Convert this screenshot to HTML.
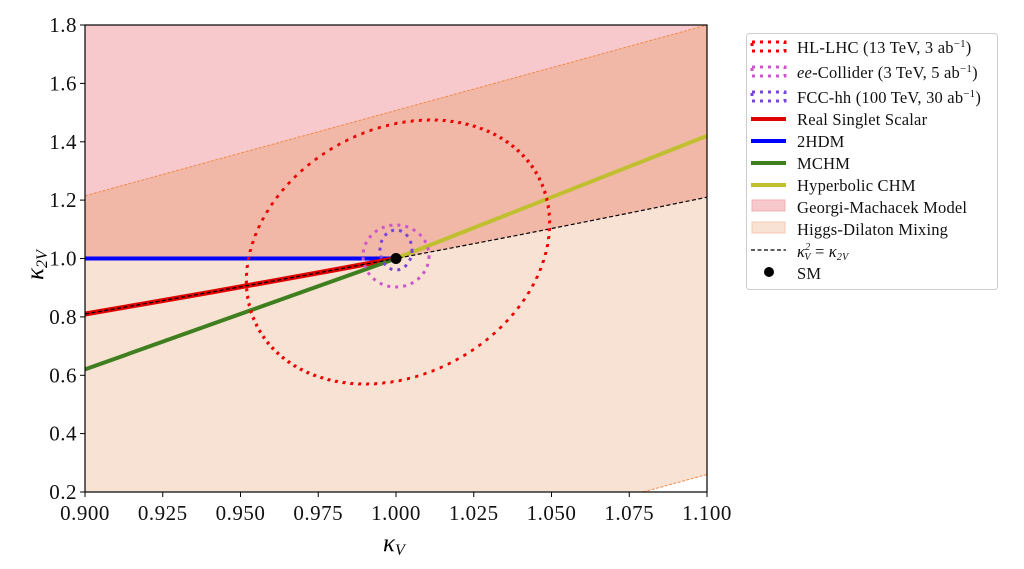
<!DOCTYPE html>
<html><head><meta charset="utf-8"><style>
html,body{margin:0;padding:0;background:#fff;}
svg{display:block;font-family:"Liberation Serif",serif;}
</style></head><body>
<svg width="1024" height="569" viewBox="0 0 1024 569" xmlns="http://www.w3.org/2000/svg">
<defs><clipPath id="c"><rect x="85" y="25" width="622" height="467"/></clipPath></defs>
<g clip-path="url(#c)">
<rect x="85" y="25" width="622" height="467" fill="#f7e2d3"/>
<polygon points="643,492 707,474.5 707,492" fill="#fff"/>
<polygon points="85,25 707,25 85,195.8" fill="#f7c9cc"/>
<polygon points="85,195.8 707,25 707,197.2 644.8,209.9 582.6,222.4 520.4,234.7 458.2,246.7 396,258.5 85,258.5" fill="#f1b8a7"/>
<line x1="85" y1="195.8" x2="707" y2="25" stroke="#f08a4b" stroke-width="1" stroke-dasharray="3 1.5"/>
<line x1="643" y1="492" x2="707" y2="474.5" stroke="#f08a4b" stroke-width="1" stroke-dasharray="3 1.5"/>
<line x1="85" y1="258.5" x2="396" y2="258.5" stroke="#0000ff" stroke-width="4"/>
<polyline points="85,314 147.2,303.3 209.4,292.4 271.6,281.3 333.8,270 396,258.5" fill="none" stroke="#e00000" stroke-width="5"/>
<line x1="85" y1="369.4" x2="396" y2="258.5" stroke="#3f7f1f" stroke-width="4"/>
<line x1="396" y1="258.5" x2="707" y2="135.9" stroke="#bfbf30" stroke-width="4"/>
<polyline points="85,314 147.2,303.3 209.4,292.4 271.6,281.3 333.8,270 396,258.5 458.2,246.7 520.4,234.7 582.6,222.4 644.8,209.9 707,197.2" fill="none" stroke="#000" stroke-width="1.2" stroke-dasharray="4 2.5"/>
<g transform="translate(398,252) skewX(-14)"><ellipse cx="0" cy="0" rx="148" ry="132" fill="none" stroke="#ee0000" stroke-width="3" stroke-dasharray="3 5"/></g>
<ellipse cx="396" cy="256" rx="33" ry="31" fill="none" stroke="#cc55cc" stroke-width="3" stroke-dasharray="3 5"/>
<ellipse cx="396" cy="250" rx="16" ry="20" fill="none" stroke="#7744dd" stroke-width="3" stroke-dasharray="3 5"/>
<circle cx="396" cy="258.5" r="5.5" fill="#000"/>
</g>
<rect x="85" y="25" width="622" height="467" fill="none" stroke="#000" stroke-width="1.2"/>
<g stroke="#000" stroke-width="1">
<line x1="85" y1="492" x2="85" y2="497"/><line x1="162.75" y1="492" x2="162.75" y2="497"/><line x1="240.5" y1="492" x2="240.5" y2="497"/><line x1="318.25" y1="492" x2="318.25" y2="497"/><line x1="396" y1="492" x2="396" y2="497"/><line x1="473.75" y1="492" x2="473.75" y2="497"/><line x1="551.5" y1="492" x2="551.5" y2="497"/><line x1="629.25" y1="492" x2="629.25" y2="497"/><line x1="707" y1="492" x2="707" y2="497"/>
<line x1="80" y1="25" x2="85" y2="25"/><line x1="80" y1="83.4" x2="85" y2="83.4"/><line x1="80" y1="141.8" x2="85" y2="141.8"/><line x1="80" y1="200.1" x2="85" y2="200.1"/><line x1="80" y1="258.5" x2="85" y2="258.5"/><line x1="80" y1="316.9" x2="85" y2="316.9"/><line x1="80" y1="375.3" x2="85" y2="375.3"/><line x1="80" y1="433.6" x2="85" y2="433.6"/><line x1="80" y1="492" x2="85" y2="492"/>
</g>
<g font-size="21" fill="#111" text-anchor="middle" letter-spacing="0.5">
<text x="85" y="520">0.900</text><text x="162.75" y="520">0.925</text><text x="240.5" y="520">0.950</text><text x="318.25" y="520">0.975</text><text x="396" y="520">1.000</text><text x="473.75" y="520">1.025</text><text x="551.5" y="520">1.050</text><text x="629.25" y="520">1.075</text><text x="707" y="520">1.100</text>
</g>
<g font-size="21" fill="#111" text-anchor="end" letter-spacing="0.5">
<text x="77" y="32">1.8</text><text x="77" y="90.4">1.6</text><text x="77" y="148.8">1.4</text><text x="77" y="207.1">1.2</text><text x="77" y="265.5">1.0</text><text x="77" y="323.9">0.8</text><text x="77" y="382.3">0.6</text><text x="77" y="440.6">0.4</text><text x="77" y="499">0.2</text>
</g>
<text x="383" y="551" font-size="25" font-style="italic">κ<tspan font-size="16" dy="4">V</tspan></text>
<text transform="translate(43,280) rotate(-90)" font-size="25" font-style="italic">κ<tspan font-size="16" dy="4">2V</tspan></text>
<rect x="746.5" y="33.5" width="251" height="256" rx="3" fill="#fff" stroke="#ccc" stroke-width="1"/>
<g stroke-width="3" fill="none">
<rect x="752" y="42" width="33" height="9" stroke="#ee0000" stroke-dasharray="3 5"/>
<rect x="752" y="67" width="33" height="9" stroke="#cc55cc" stroke-dasharray="3 5"/>
<rect x="752" y="92" width="33" height="9" stroke="#7744dd" stroke-dasharray="3 5"/>
<line x1="751" y1="119" x2="786" y2="119" stroke="#e00000" stroke-width="4"/>
<line x1="751" y1="141" x2="786" y2="141" stroke="#0000ff" stroke-width="4"/>
<line x1="751" y1="163" x2="786" y2="163" stroke="#3f7f1f" stroke-width="4"/>
<line x1="751" y1="185" x2="786" y2="185" stroke="#bfbf30" stroke-width="4"/>
</g>
<rect x="752" y="200" width="33" height="11" fill="#f7c9cc" stroke="#f3b0b5" stroke-width="1"/>
<rect x="752" y="222" width="33" height="11" fill="#f7e2d3" stroke="#f4cdb0" stroke-width="1"/>
<line x1="751" y1="250" x2="786" y2="250" stroke="#000" stroke-width="1.2" stroke-dasharray="4 2.5"/>
<circle cx="769" cy="272" r="5" fill="#000"/>
<g font-size="16.5" fill="#111" letter-spacing="0.2">
<text x="797" y="53">HL-LHC (13 TeV, 3 ab<tspan font-size="11" dy="-6">−1</tspan><tspan dy="6">)</tspan></text>
<text x="797" y="78"><tspan font-style="italic">ee</tspan>-Collider (3 TeV, 5 ab<tspan font-size="11" dy="-6">−1</tspan><tspan dy="6">)</tspan></text>
<text x="797" y="103">FCC-hh (100 TeV, 30 ab<tspan font-size="11" dy="-6">−1</tspan><tspan dy="6">)</tspan></text>
<text x="797" y="125">Real Singlet Scalar</text>
<text x="797" y="147">2HDM</text>
<text x="797" y="169">MCHM</text>
<text x="797" y="191">Hyperbolic CHM</text>
<text x="797" y="213">Georgi-Machacek Model</text>
<text x="797" y="235">Higgs-Dilaton Mixing</text>
<text x="797" y="257" font-style="italic">κ<tspan font-size="10" dy="-7">2</tspan><tspan font-size="10" dx="-6" dy="10">V</tspan><tspan font-style="normal" dy="-3"> = </tspan>κ<tspan font-size="10" dy="3">2V</tspan></text>
<text x="797" y="279">SM</text>
</g>
</svg>
</body></html>
